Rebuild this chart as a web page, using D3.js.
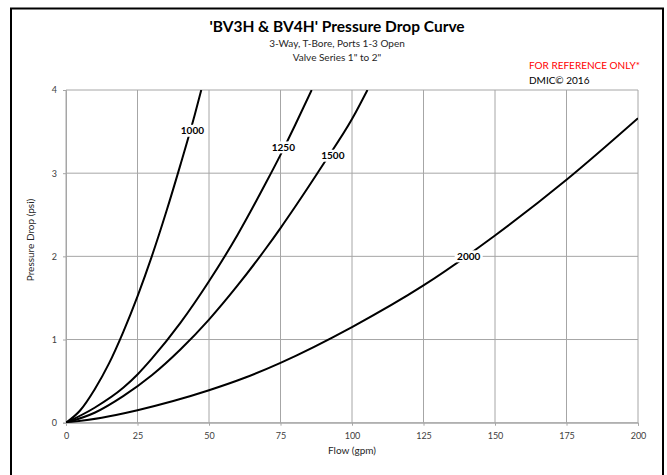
<!DOCTYPE html>
<html>
<head>
    <meta charset="utf-8">
    <script src="https://d3js.org/d3.v7.min.js"></script>
    <style>
        body { margin: 0; background: #fff; }
        text { font-family: Lato, "Open Sans", sans-serif; }
    </style>
</head>
<body>
    <div id="canvas"></div>

    <script type="text/javascript">

        // values
        var xTicks = [0, 25, 50, 75, 100, 125, 150, 175, 200];
        var yTicks = [0, 1, 2, 3, 4];
        var seriesNames = ["1000", "1250", "1500", "2000"];

        var flow1000 = [0, 5, 10, 15, 20, 25, 30, 35, 40, 45, 47.3];
        var drop1000 = [0, 0.15, 0.4, 0.71, 1.09, 1.52, 2.0, 2.53, 3.1, 3.7, 4.0];

        var flow1250 = [0, 10, 20, 25, 30, 40, 50, 60, 70, 75, 80, 85.9];
        var drop1250 = [0, 0.18, 0.42, 0.58, 0.77, 1.2, 1.7, 2.26, 2.89, 3.22, 3.57, 4.0];

        var flow1500 = [0, 10, 20, 30, 40, 50, 60, 70, 75, 80, 90, 100, 105.4];
        var drop1500 = [0, 0.12, 0.32, 0.57, 0.88, 1.24, 1.65, 2.1, 2.34, 2.59, 3.11, 3.65, 4.0];

        var flow2000 = [0, 12.5, 25, 37.5, 50, 62.5, 75, 100, 125, 150, 175, 200];
        var drop2000 = [0, 0.06, 0.15, 0.26, 0.39, 0.54, 0.72, 1.15, 1.65, 2.25, 2.92, 3.66];

        // where the curve labels sit (flow, pressure drop)
        var labelFlow = [44.2, 76, 93.3, 140.8];
        var labelDrop = [3.51, 3.31, 3.21, 2.0];

        var allFlows = [flow1000, flow1250, flow1500, flow2000];
        var allDrops = [drop1000, drop1250, drop1500, drop2000];

        var W = 667, H = 475;
        var margin = {top: 90, left: 66, right: 29, bottom: 52.3};
        var width = W - margin.left - margin.right;
        var height = H - margin.top - margin.bottom;

        var svg = d3.select("#canvas")
                    .append("svg")
                    .attr("width", W)
                    .attr("height", H);

        // outer frame
        svg.append("rect")
            .attr("x", 11).attr("y", 8.5)
            .attr("width", 652).attr("height", 480)
            .attr("fill", "none")
            .attr("stroke", "#000")
            .attr("stroke-width", 2);

        var g = svg.append("g")
                .attr("transform", `translate(${margin.left}, ${margin.top})`);

        var xscale = d3.scaleLinear().domain([0, 200]).range([0, width]);
        var yscale = d3.scaleLinear().domain([0, 4]).range([height, 0]);

        // grid
        g.selectAll(".vgrid")
            .data(xTicks)
            .enter()
            .append("line")
            .attr("x1", function(d){ return xscale(d); })
            .attr("x2", function(d){ return xscale(d); })
            .attr("y1", 0).attr("y2", height)
            .style("stroke", "#a6a6a6")
            .style("stroke-width", "1px");
        g.selectAll(".hgrid")
            .data(yTicks)
            .enter()
            .append("line")
            .attr("y1", function(d){ return yscale(d); })
            .attr("y2", function(d){ return yscale(d); })
            .attr("x1", 0).attr("x2", width)
            .style("stroke", "#a6a6a6")
            .style("stroke-width", "1px");

        // axes
        var xaxis = d3.axisBottom(xscale).tickValues(xTicks).tickSize(3).tickPadding(7);
        var yaxis = d3.axisLeft(yscale).tickValues(yTicks).tickFormat(d3.format("d"))
                      .tickSize(3).tickPadding(6);
        var gx = g.append("g")
            .attr("transform", "translate(0," + height + ")")
            .call(xaxis);
        var gy = g.append("g").call(yaxis);
        [gx, gy].forEach(function(a) {
            a.select(".domain").attr("stroke", "#a6a6a6");
            a.selectAll(".tick line").attr("stroke", "#a6a6a6");
            a.selectAll(".tick text")
                .attr("fill", "#404040")
                .style("font-size", "9px")
                .style("font-family", "Lato, sans-serif");
        });

        // curves
        g.append("clipPath").attr("id", "plotclip")
            .append("rect")
            .attr("x", 0).attr("y", 0)
            .attr("width", width).attr("height", height);

        var line = d3.line()
            .x(function(d){ return xscale(d[0]); })
            .y(function(d){ return yscale(d[1]); })
            .curve(d3.curveMonotoneX);

        var curves = g.append("g").attr("clip-path", "url(#plotclip)");
        for(var i = 0; i < seriesNames.length; i++) {
            var pts = allFlows[i].map(function(f, k){ return [f, allDrops[i][k]]; });
            curves.append("path")
                .datum(pts)
                .attr("d", line)
                .attr("fill", "none")
                .attr("stroke", "#000")
                .attr("stroke-width", 2);
        }

        // curve labels with white boxes
        for(var i = 0; i < seriesNames.length; i++) {
            var lx = xscale(labelFlow[i]), ly = yscale(labelDrop[i]);
            g.append("rect")
                .attr("x", lx - 14).attr("y", ly - 6)
                .attr("width", 28).attr("height", 12)
                .attr("fill", "#fff");
            g.append("text")
                .text(seriesNames[i])
                .attr("x", lx).attr("y", ly + 3.5)
                .style("font-size", "10px")
                .style("font-weight", "bold")
                .style("fill", "#000")
                .style("text-anchor", "middle");
        }

        // titles
        svg.append("text")
            .text("'BV3H & BV4H' Pressure Drop Curve")
            .attr("x", 337).attr("y", 32)
            .style("font-size", "15.5px")
            .style("font-weight", "bold")
            .style("fill", "#000")
            .style("text-anchor", "middle");
        svg.append("text")
            .text("3-Way, T-Bore, Ports 1-3 Open")
            .attr("x", 337).attr("y", 47)
            .style("font-size", "10px")
            .style("fill", "#262626")
            .style("text-anchor", "middle");
        svg.append("text")
            .text("Valve Series 1\" to 2\"")
            .attr("x", 337).attr("y", 61)
            .style("font-size", "10px")
            .style("fill", "#262626")
            .style("text-anchor", "middle");
        svg.append("text")
            .text("FOR REFERENCE ONLY*")
            .attr("x", 529).attr("y", 69)
            .style("font-size", "10px")
            .style("fill", "#ff0000");
        svg.append("text")
            .text("DMIC\u00a9 2016")
            .attr("x", 529).attr("y", 84)
            .style("font-size", "10px")
            .style("fill", "#000");

        // axis names
        svg.append("text")
            .text("Pressure Drop (psi)")
            .attr("transform", "translate(34,240) rotate(-90)")
            .style("font-size", "10px")
            .style("fill", "#262626")
            .style("text-anchor", "middle");
        svg.append("text")
            .text("Flow (gpm)")
            .attr("x", 352).attr("y", 454)
            .style("font-size", "10px")
            .style("fill", "#262626")
            .style("text-anchor", "middle");

    </script>
</body>
</html>
